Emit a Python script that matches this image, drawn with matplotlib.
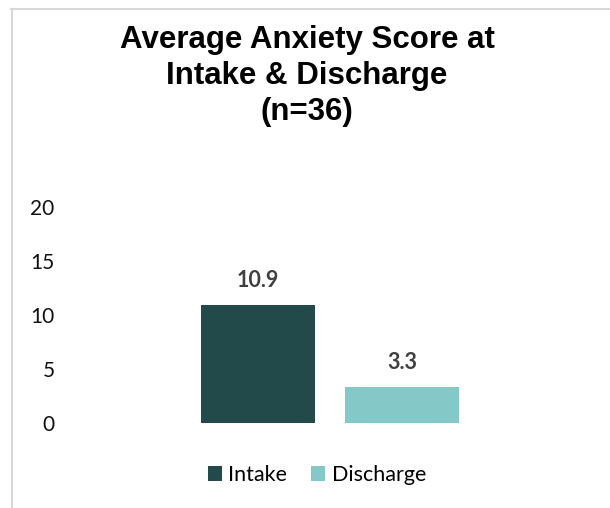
import matplotlib
matplotlib.use("Agg")
import matplotlib.pyplot as plt
from matplotlib.patches import Patch
from matplotlib.lines import Line2D

# Chart data
series = ["Intake", "Discharge"]
values = [10.9, 3.3]
colors = ["#224a4a", "#84c8c8"]
yticks = [0, 5, 10, 15, 20]
title = "Average Anxiety Score at\nIntake & Discharge\n(n=36)"

W, H = 610, 508
fig = plt.figure(figsize=(W / 100, H / 100), dpi=100)
fig.patch.set_facecolor("white")

# Plot area placed in pixel terms
left_px, right_px = 60, 600
y0_px, y20_px = 423, 207
ax = fig.add_axes([left_px / W, (H - y0_px) / H,
                   (right_px - left_px) / W, (y0_px - y20_px) / H])

x = list(range(len(values)))
bars = ax.bar(x, values, width=0.79, color=colors)
ax.set_xlim(-(258 - left_px) / 144, (right_px - 258) / 144)
ax.set_ylim(0, 20)
ax.set_yticks(yticks)
ax.set_yticklabels([str(t) for t in yticks], family="Lato", fontsize=15,
                   color="#111111")
ax.tick_params(axis="y", length=0, pad=4)
ax.set_xticks([])
for s in ax.spines.values():
    s.set_visible(False)

for b, v in zip(bars, values):
    ax.annotate(f"{v}", (b.get_x() + b.get_width() / 2, v),
                xytext=(0, 18), textcoords="offset points",
                ha="center", va="center", family="Lato", fontweight="bold",
                fontsize=15.5, color="#404040")

fig.text(307 / W, 1 - 76 / H, title, ha="center", va="center",
         family="Liberation Sans", fontweight="bold", fontsize=22.5,
         linespacing=1.26, color="black")

handles = [Patch(facecolor=c, edgecolor="none") for c in colors]
fig.legend(handles, series, loc="center", bbox_to_anchor=(317 / W, 1 - 475 / H),
           ncol=2, frameon=False, prop={"family": "Lato", "size": 15.5},
           handlelength=0.65, handleheight=0.65, handletextpad=0.3,
           columnspacing=1.1)

# Chart frame edges
fig.add_artist(Line2D([11 / W, 1], [1 - 8.5 / H, 1 - 8.5 / H],
                      color="#d9d9d9", lw=1.5))
fig.add_artist(Line2D([12 / W, 12 / W], [0, 1 - 8.5 / H],
                      color="#d9d9d9", lw=1.5))

fig.savefig("out.png", dpi=100, facecolor="white")
